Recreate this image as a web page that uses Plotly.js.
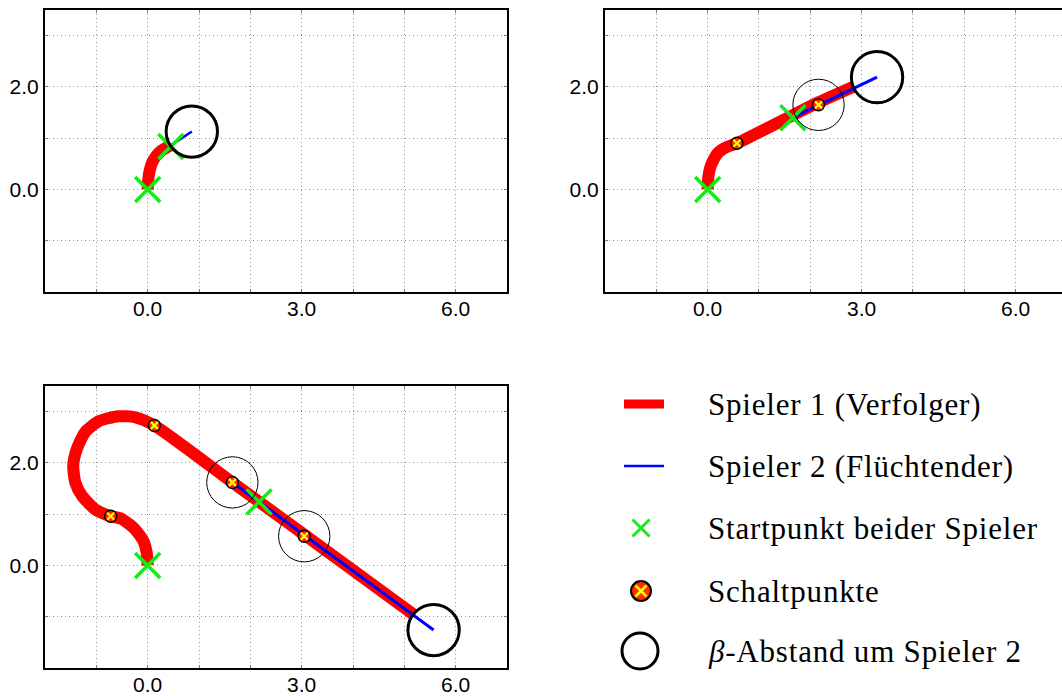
<!DOCTYPE html>
<html>
<head>
<meta charset="utf-8">
<script src="https://cdn.plot.ly/plotly-3.0.1.min.js"></script>
<style>html,body{margin:0;padding:0;background:#fff}#plot{width:1062px;height:696px}
.annotation-text{letter-spacing:0.8px}</style>
</head>
<body>
<div id="plot"></div>
<script>
// ---------- data ----------
const beta = 0.5;
// panel 1
const p1RedX = [0, 0.01, 0.04, 0.09, 0.17, 0.27, 0.37, 0.45];
const p1RedY = [0, 0.18, 0.37, 0.53, 0.66, 0.76, 0.82, 0.86];
const p1BlueX = [0.45, 0.86];
const p1BlueY = [0.86, 1.13];
const p1StartX = [0, 0.45];
const p1StartY = [0, 0.84];
const p1SwitchX = [];
const p1SwitchY = [];
const p1ThinCx = [];
const p1ThinCy = [];
const p1EndC = [0.86, 1.13];
// panel 2
const p2RedX = [0, 0.01, 0.05, 0.11, 0.18, 0.27, 0.38, 0.57, 1.66, 2.16, 2.85];
const p2RedY = [0, 0.22, 0.43, 0.57, 0.69, 0.77, 0.83, 0.90, 1.45, 1.70, 2.01];
const p2BlueX = [1.66, 3.30];
const p2BlueY = [1.40, 2.19];
const p2StartX = [0, 1.66];
const p2StartY = [0, 1.40];
const p2SwitchX = [0.57, 2.16];
const p2SwitchY = [0.90, 1.65];
const p2ThinCx = [2.16];
const p2ThinCy = [1.65];
const p2EndC = [3.30, 2.19];
// panel 3
const p3RedX = [0, -0.02, -0.08, -0.25, -0.51, -0.72, -1.03, -1.28, -1.41, -1.45, -1.38, -1.22, -0.96, -0.57, -0.25, 0.13, 1.65, 3.05, 5.17];
const p3RedY = [0, 0.25, 0.47, 0.71, 0.91, 0.96, 1.10, 1.36, 1.62, 1.95, 2.27, 2.60, 2.81, 2.91, 2.89, 2.73, 1.62, 0.60, -0.95];
const p3BlueX = [2.17, 1.65, 5.57];
const p3BlueY = [1.24, 1.62, -1.26];
const p3StartX = [0, 2.17];
const p3StartY = [0, 1.24];
const p3SwitchX = [-0.72, 0.13, 1.65, 3.05];
const p3SwitchY = [0.96, 2.73, 1.62, 0.57];
const p3ThinCx = [1.65, 3.05];
const p3ThinCy = [1.62, 0.57];
const p3EndC = [5.57, -1.26];

const xTickVals = [-1, 0, 1, 2, 3, 4, 5, 6];
const xTickText = ['', '0.0', '', '', '3.0', '', '', '6.0'];
const yTickVals = [-1, 0, 1, 2, 3];
const yTickText = ['', '0.0', '', '2.0', ''];

const legendLabels = ['Spieler 1 (Verfolger)', 'Spieler 2 (Flüchtender)', 'Startpunkt beider Spieler', 'Schaltpunkte', '<i>β</i>-Abstand um Spieler 2'];

// ---------- styles ----------
const RED = '#ff0000', BLUE = '#0000ff', GREEN = '#18e818', YEL = '#ffff00';

const panels = [
  {rx:p1RedX, ry:p1RedY, bx:p1BlueX, by:p1BlueY, sx:p1StartX, sy:p1StartY, wx:p1SwitchX, wy:p1SwitchY, tcx:p1ThinCx, tcy:p1ThinCy, end:p1EndC, blueW:2.5},
  {rx:p2RedX, ry:p2RedY, bx:p2BlueX, by:p2BlueY, sx:p2StartX, sy:p2StartY, wx:p2SwitchX, wy:p2SwitchY, tcx:p2ThinCx, tcy:p2ThinCy, end:p2EndC, blueW:3},
  {rx:p3RedX, ry:p3RedY, bx:p3BlueX, by:p3BlueY, sx:p3StartX, sy:p3StartY, wx:p3SwitchX, wy:p3SwitchY, tcx:p3ThinCx, tcy:p3ThinCy, end:p3EndC, blueW:3}
];
const axIds = [['x','y'],['x2','y2'],['x3','y3']];

const traces = [];
const shapes = [];
panels.forEach((p, i) => {
  const [xa, ya] = axIds[i];
  traces.push({x:p.rx, y:p.ry, xaxis:xa, yaxis:ya, mode:'lines', line:{color:RED, width:12, shape:'spline', smoothing:0.6}, hoverinfo:'skip'});
  traces.push({x:p.bx, y:p.by, xaxis:xa, yaxis:ya, mode:'lines', line:{color:BLUE, width:p.blueW}, hoverinfo:'skip'});
  traces.push({x:p.sx, y:p.sy, xaxis:xa, yaxis:ya, mode:'markers', marker:{symbol:'x-thin', size:25, line:{color:GREEN, width:3.5}}, hoverinfo:'skip'});
  if (p.wx.length) {
    traces.push({x:p.wx, y:p.wy, xaxis:xa, yaxis:ya, mode:'markers', marker:{symbol:'circle', size:12, color:'#ff2a00', line:{color:'#000', width:1.4}}, hoverinfo:'skip'});
    traces.push({x:p.wx, y:p.wy, xaxis:xa, yaxis:ya, mode:'markers', marker:{symbol:'x-thin', size:7, line:{color:YEL, width:2.2}}, hoverinfo:'skip'});
  }
  p.tcx.forEach((cx, k) => {
    const cy = p.tcy[k];
    shapes.push({type:'circle', xref:xa, yref:ya, x0:cx-beta, x1:cx+beta, y0:cy-beta, y1:cy+beta, line:{color:'#000', width:1}});
  });
  shapes.push({type:'circle', xref:xa, yref:ya, x0:p.end[0]-beta, x1:p.end[0]+beta, y0:p.end[1]-beta, y1:p.end[1]+beta, line:{color:'#000', width:3}});
});

// ---------- legend (drawn on a hidden full-page axis in pixel units) ----------
const LX = 'x4', LY = 'y4';
const rowY = [404, 466, 528, 591, 651];
traces.push({x:[624, 664], y:[rowY[0], rowY[0]], xaxis:LX, yaxis:LY, mode:'lines', line:{color:RED, width:9}, hoverinfo:'skip'});
traces.push({x:[624, 664], y:[rowY[1], rowY[1]], xaxis:LX, yaxis:LY, mode:'lines', line:{color:BLUE, width:2.5}, hoverinfo:'skip'});
traces.push({x:[641], y:[rowY[2]], xaxis:LX, yaxis:LY, mode:'markers', marker:{symbol:'x-thin', size:17, line:{color:GREEN, width:3}}, hoverinfo:'skip'});
traces.push({x:[641], y:[rowY[3]], xaxis:LX, yaxis:LY, mode:'markers', marker:{symbol:'circle', size:20, color:'#ff2a00', line:{color:'#000', width:2}}, hoverinfo:'skip'});
traces.push({x:[641], y:[rowY[3]], xaxis:LX, yaxis:LY, mode:'markers', marker:{symbol:'x-thin', size:11, line:{color:YEL, width:2.5}}, hoverinfo:'skip'});
traces.push({x:[640], y:[rowY[4]], xaxis:LX, yaxis:LY, mode:'markers', marker:{symbol:'circle-open', size:36, color:'#000', line:{color:'#000', width:3}}, hoverinfo:'skip'});

const annotations = legendLabels.map((t, i) => ({
  xref:LX, yref:LY, x:706, y:rowY[i], text:t, showarrow:false, xanchor:'left', yanchor:'middle',
  font:{family:'Liberation Serif, serif', size:31, color:'#000'}
}));

// ---------- axes ----------
const W = 1062, H = 696;
const GRIDDASH = '1px,3px';
const TICKFONT = {family:'Liberation Sans, Arial, sans-serif', size:21, color:'#000'};
function xAxis(d0, d1, rangeMax, anchor) {
  return {domain:[d0/W, d1/W], range:[-2, rangeMax], anchor:anchor,
    tickmode:'array', tickvals:xTickVals, ticktext:xTickText,
    ticks:'inside', ticklen:3, tickcolor:'#777', tickwidth:1, ticklabelstandoff:-3,
    showgrid:true, gridcolor:'#999999', griddash:GRIDDASH, gridwidth:1,
    zeroline:false, showline:true, linecolor:'#000', linewidth:2, mirror:'allticks',
    tickfont:TICKFONT, fixedrange:true};
}
function yAxis(top, bottom, anchor, mirror) {
  return {domain:[1 - bottom/H, 1 - top/H], range:[-2, 3.5], anchor:anchor,
    tickmode:'array', tickvals:yTickVals, ticktext:yTickText,
    ticks:'inside', ticklen:3, tickcolor:'#777', tickwidth:1,
    showgrid:true, gridcolor:'#999999', griddash:GRIDDASH, gridwidth:1,
    zeroline:false, showline:true, linecolor:'#000', linewidth:2, mirror:mirror,
    tickfont:TICKFONT, fixedrange:true};
}

const layout = {
  width:W, height:H, margin:{l:0, r:0, t:0, b:0}, showlegend:false,
  paper_bgcolor:'#fff', plot_bgcolor:'rgba(0,0,0,0)',
  xaxis: xAxis(45, 507, 7, 'y'),
  yaxis: yAxis(10, 292, 'x', 'allticks'),
  xaxis2: xAxis(605, 1062, -2 + (1062 - 605) / 51.33, 'y2'),
  yaxis2: yAxis(10, 292, 'x2', false),
  xaxis3: xAxis(45, 507, 7, 'y3'),
  yaxis3: yAxis(386, 668, 'x3', 'allticks'),
  xaxis4: {domain:[0, 1], range:[0, W], visible:false, anchor:'y4', fixedrange:true},
  yaxis4: {domain:[0, 1], range:[H, 0], visible:false, anchor:'x4', fixedrange:true},
  shapes: shapes,
  annotations: annotations
};

Plotly.newPlot('plot', traces, layout, {staticPlot:true, displayModeBar:false});
</script>
</body>
</html>
